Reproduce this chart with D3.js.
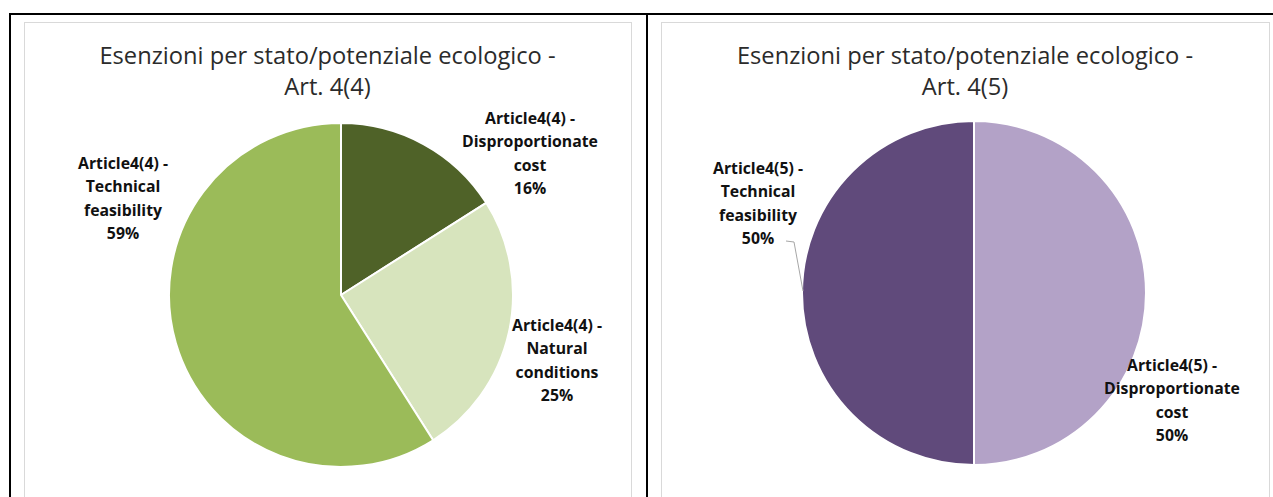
<!DOCTYPE html>
<html>
<head>
<meta charset="utf-8">
<script src="https://cdn.jsdelivr.net/npm/d3@7"></script>
<style>
  html, body { margin: 0; padding: 0; background: #fff; }
  svg { display: block; }
</style>
</head>
<body>
<svg id="chart" width="1273" height="497"></svg>
<script>
// Exemption data for the two pie charts
const art44Title = ["Esenzioni per stato/potenziale ecologico -", "Art. 4(4)"];
const art44Prefix = "Article4(4) -";
const art44Categories = ["Disproportionate cost", "Natural conditions", "Technical feasibility"];
const art44Values = [16, 25, 59];
const art44Colors = ["#4f6228", "#d7e4bd", "#9bbb59"];

const art45Title = ["Esenzioni per stato/potenziale ecologico -", "Art. 4(5)"];
const art45Prefix = "Article4(5) -";
const art45Categories = ["Disproportionate cost", "Technical feasibility"];
const art45Values = [50, 50];
const art45Colors = ["#b3a2c7", "#604a7b"];

const svg = d3.select("#chart");

// Table borders around the two cells
const border = svg.append("g").attr("stroke", "#000").attr("stroke-width", 2);
border.append("line").attr("x1", 9).attr("x2", 1273).attr("y1", 14).attr("y2", 14);
border.append("line").attr("x1", 10).attr("x2", 10).attr("y1", 13).attr("y2", 497);
border.append("line").attr("x1", 647).attr("x2", 647).attr("y1", 13).attr("y2", 497);

function drawPie(opts) {
  const g = svg.append("g");
  // chart area frame
  g.append("rect")
    .attr("x", opts.frame[0] + 0.5).attr("y", 22.5)
    .attr("width", opts.frame[1] - opts.frame[0]).attr("height", 500)
    .attr("fill", "#fff").attr("stroke", "#d9d9d9").attr("stroke-width", 1);

  const cx = (opts.frame[0] + opts.frame[1]) / 2;
  g.selectAll("text.title").data(opts.title).join("text")
    .attr("class", "title")
    .attr("x", cx).attr("y", (d, i) => 64 + i * 31)
    .attr("text-anchor", "middle")
    .attr("font-family", "'Open Sans', Lato, sans-serif")
    .attr("font-size", 23.7)
    .attr("fill", "#2b2b2b")
    .text(d => d);

  const total = d3.sum(opts.values);
  const pie = d3.pie().sort(null).value(d => d.value);
  const arc = d3.arc().innerRadius(0).outerRadius(opts.r);
  const rows = opts.categories.map((c, i) => ({ name: c, value: opts.values[i], color: opts.colors[i] }));
  const arcs = pie(rows);

  const pg = g.append("g").attr("transform", `translate(${opts.center[0]},${opts.center[1]})`);
  pg.selectAll("path").data(arcs).join("path")
    .attr("d", arc)
    .attr("fill", d => d.data.color)
    .attr("stroke", "#fff")
    .attr("stroke-width", 2)
    .attr("stroke-linejoin", "round");

  // leader lines
  if (opts.leaders) {
    opts.leaders.forEach(pts => {
      g.append("polyline")
        .attr("points", pts.map(p => p.join(",")).join(" "))
        .attr("fill", "none").attr("stroke", "#a6a6a6").attr("stroke-width", 1);
    });
  }

  // data labels
  arcs.forEach((a, i) => {
    const pos = opts.labelPos[i];
    const pct = Math.round(a.data.value / total * 100) + "%";
    const lines = [opts.prefix, ...a.data.name.split(" "), pct];
    const t = g.append("text")
      .attr("text-anchor", "middle")
      .attr("font-family", "'Open Sans', Lato, sans-serif")
      .attr("font-weight", "bold")
      .attr("font-size", 15.8)
      .attr("fill", "#111");
    lines.forEach((ln, j) => {
      t.append("tspan").attr("x", pos[0]).attr("y", pos[1] + j * 23.3).text(ln);
    });
  });
}

drawPie({
  frame: [24, 631],
  title: art44Title,
  prefix: art44Prefix,
  categories: art44Categories,
  values: art44Values,
  colors: art44Colors,
  center: [341, 295],
  r: 172,
  labelPos: [[530, 124], [557, 331], [123, 169]]
});

drawPie({
  frame: [661, 1269],
  title: art45Title,
  prefix: art45Prefix,
  categories: art45Categories,
  values: art45Values,
  colors: art45Colors,
  center: [974, 293],
  r: 172,
  labelPos: [[1172, 371], [758, 174]],
  leaders: [[[786, 241], [794, 242], [803, 291]]]
});
</script>
</body>
</html>
